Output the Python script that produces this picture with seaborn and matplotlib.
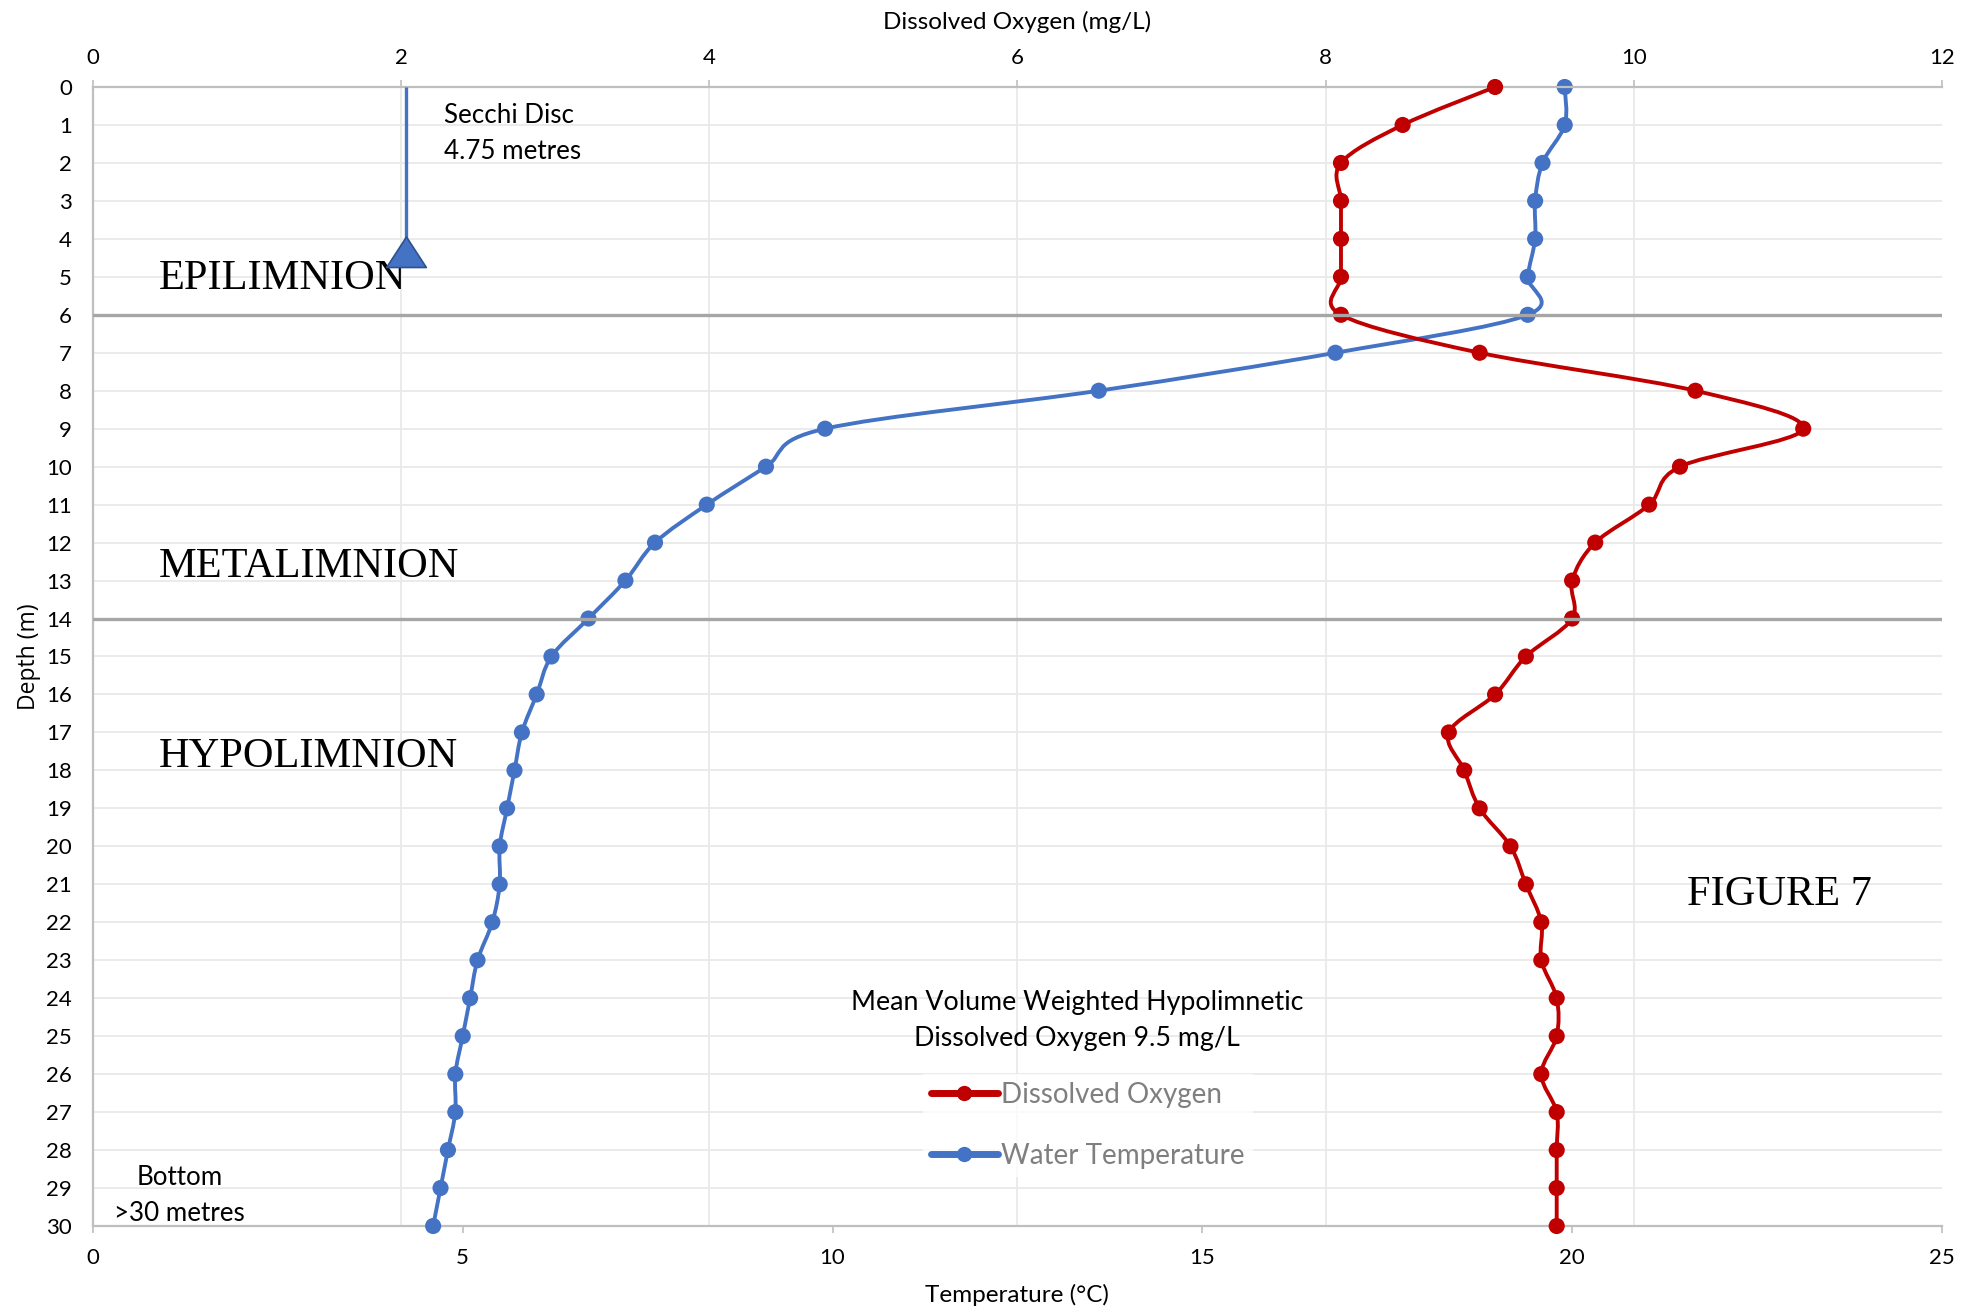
import numpy as np
import matplotlib
matplotlib.use("Agg")
import matplotlib.pyplot as plt
from matplotlib.path import Path
from matplotlib.patches import PathPatch
from matplotlib.lines import Line2D
from matplotlib.ticker import FixedLocator
import seaborn as sns

# ---- profile data -------------------------------------------------------
depth_m = list(range(0, 31))
water_temp_c = [19.9, 19.9, 19.6, 19.5, 19.5, 19.4, 19.4, 16.8, 13.6, 9.9,
                9.1, 8.3, 7.6, 7.2, 6.7, 6.2, 6.0, 5.8, 5.7, 5.6,
                5.5, 5.5, 5.4, 5.2, 5.1, 5.0, 4.9, 4.9, 4.8, 4.7, 4.6]
dissolved_oxygen = [9.1, 8.5, 8.1, 8.1, 8.1, 8.1, 8.1, 9.0, 10.4, 11.1,
                    10.3, 10.1, 9.75, 9.6, 9.6, 9.3, 9.1, 8.8, 8.9, 9.0,
                    9.2, 9.3, 9.4, 9.4, 9.5, 9.5, 9.4, 9.5, 9.5, 9.5, 9.5]
layer_boundaries_m = [6, 14]
secchi_depth_m = 4.75
secchi_marker_do = 2.03

temp_ticks = [0, 5, 10, 15, 20, 25]
do_ticks = [0, 2, 4, 6, 8, 10, 12]
depth_ticks = list(range(0, 31))

RED = "#C00000"
BLUE = "#4472C4"
AXIS_GREY = "#BFBFBF"
GRID_GREY = "#E9E9E9"
LAYER_GREY = "#A6A6A6"

sns.set_style("white")
plt.rcParams["font.family"] = ["Lato", "DejaVu Sans"]
plt.rcParams["text.color"] = "black"
plt.rcParams["axes.labelcolor"] = "black"
SERIF = ["Liberation Serif", "DejaVu Serif"]


def smooth_path(xs, ys):
    """Cubic Bezier path through the points (Catmull-Rom style tangents)."""
    pts = np.column_stack([xs, ys]).astype(float)
    n = len(pts)
    verts = [pts[0]]
    codes = [Path.MOVETO]
    for i in range(n - 1):
        p0 = pts[i - 1] if i > 0 else pts[i]
        p1, p2 = pts[i], pts[i + 1]
        p3 = pts[i + 2] if i + 2 < n else pts[i + 1]
        verts += [p1 + (p2 - p0) / 6.0, p2 - (p3 - p1) / 6.0, p2]
        codes += [Path.CURVE4] * 3
    return Path(verts, codes)


fig = plt.figure(figsize=(19.77, 13.12), dpi=100)
ax = fig.add_axes([0.0470, 0.06555, 0.93525, 0.86814])
ax2 = ax.twiny()

# limits
ax.set_xlim(temp_ticks[0], temp_ticks[-1])
ax.set_ylim(depth_ticks[-1], depth_ticks[0])
ax2.set_xlim(do_ticks[0], do_ticks[-1])

# grid: horizontal at each metre, vertical at the oxygen ticks
ax.set_yticks(depth_ticks)
ax.set_xticks(temp_ticks)
scale = temp_ticks[-1] / do_ticks[-1]
ax.xaxis.set_minor_locator(FixedLocator([d * scale for d in do_ticks[1:]]))
ax.grid(which="major", axis="y", color=GRID_GREY, lw=1.3)
ax.grid(which="minor", axis="x", color=GRID_GREY, lw=1.3)
ax.grid(which="major", axis="x", visible=False)
ax.set_axisbelow(True)
ax2.grid(False)
ax2.set_xticks(do_ticks)

# spines
for side in ["top", "right"]:
    ax.spines[side].set_visible(False)
for side in ["left", "bottom"]:
    ax.spines[side].set_color(AXIS_GREY)
    ax.spines[side].set_linewidth(1.6)
for side in ["left", "bottom", "right"]:
    ax2.spines[side].set_visible(False)
ax2.spines["top"].set_color(AXIS_GREY)
ax2.spines["top"].set_linewidth(1.6)

ax.tick_params(axis="y", which="major", length=5, width=1.2, color=AXIS_GREY,
               labelsize=16, pad=10, labelcolor="black")
ax.tick_params(axis="x", which="major", length=5, width=1.2, color=AXIS_GREY,
               labelsize=16, pad=11, labelcolor="black")
ax.tick_params(axis="x", which="minor", length=0)
ax2.tick_params(axis="x", length=5, width=1.2, color=AXIS_GREY,
                labelsize=16, pad=9, labelcolor="black")

ax.set_xlabel("Temperature (°C)", fontsize=17.5, labelpad=11)
ax2.set_xlabel("Dissolved Oxygen (mg/L)", fontsize=17.5, labelpad=13)
ax.set_ylabel("Depth (m)", fontsize=16.5, labelpad=4,
              family=["Open Sans", "DejaVu Sans"])

# smoothed profiles
ax.add_patch(PathPatch(smooth_path(water_temp_c, depth_m), facecolor="none",
                       edgecolor=BLUE, lw=2.8, capstyle="round",
                       joinstyle="round", zorder=2, clip_on=False))
ax2.add_patch(PathPatch(smooth_path(dissolved_oxygen, depth_m), facecolor="none",
                        edgecolor=RED, lw=2.8, capstyle="round",
                        joinstyle="round", zorder=2, clip_on=False))

# point markers
sns.scatterplot(x=water_temp_c, y=depth_m, ax=ax, color=BLUE, s=135,
                edgecolor="none", zorder=3, clip_on=False, legend=False)
sns.scatterplot(x=dissolved_oxygen, y=depth_m, ax=ax2, color=RED, s=135,
                edgecolor="none", zorder=3, clip_on=False, legend=False)

# layer boundaries
for b in layer_boundaries_m:
    ax2.axhline(b, color=LAYER_GREY, lw=2.4, zorder=4)

# Secchi disc depth
ax2.plot([secchi_marker_do, secchi_marker_do], [0, secchi_depth_m], color=BLUE,
         lw=2.4, zorder=5, solid_capstyle="butt")
tri = Path([(-0.65, 0.0), (0.65, 0.0), (0.0, 1.0), (-0.65, 0.0)],
           [Path.MOVETO, Path.LINETO, Path.LINETO, Path.CLOSEPOLY])
ax2.plot([secchi_marker_do], [secchi_depth_m], marker=tri, markersize=44,
         markerfacecolor=BLUE, markeredgecolor="#2F528F", markeredgewidth=1.2,
         linestyle="none", zorder=6)

# annotations
ax.text(4.75, 0.74, "Secchi Disc", fontsize=18.7, va="center", ha="left")
ax.text(4.75, 1.71, f"{secchi_depth_m:.2f} metres", fontsize=18.7, va="center", ha="left")
ax.text(0.89, 5.32, "EPILIMNION", family=SERIF, fontsize=30.5, va="baseline", zorder=7)
ax.text(0.89, 12.9, "METALIMNION", family=SERIF, fontsize=30.5, va="baseline")
ax.text(0.89, 17.9, "HYPOLIMNION", family=SERIF, fontsize=30.5, va="baseline")
ax.text(21.55, 21.54, "FIGURE 7", family=SERIF, fontsize=30.5, va="baseline")
ax.text(13.31, 24.12, "Mean Volume Weighted Hypolimnetic", fontsize=19.3,
        ha="center", va="center")
ax.text(13.31, 25.07, "Dissolved Oxygen 9.5 mg/L", fontsize=19.3,
        ha="center", va="center")
ax.text(1.17, 28.73, "Bottom", fontsize=18.7, ha="center", va="center")
ax.text(1.17, 29.66, ">30 metres", fontsize=18.7, ha="center", va="center")

# legend
handles = [
    Line2D([], [], color=RED, lw=5, marker="o", markersize=11,
           markeredgecolor="none", label="Dissolved Oxygen"),
    Line2D([], [], color=BLUE, lw=5, marker="o", markersize=11,
           markeredgecolor="none", label="Water Temperature"),
]
leg = ax2.legend(handles=handles, loc="center", bbox_to_anchor=(0.5503, 0.1421),
                 bbox_transform=fig.transFigure, frameon=True, fontsize=20,
                 handlelength=2.4, handletextpad=0.12, labelspacing=1.25,
                 borderpad=0.3, fancybox=False)
leg.get_frame().set_facecolor("white")
leg.get_frame().set_edgecolor("none")
for t in leg.get_texts():
    t.set_color("#7F7F7F")
leg.set_zorder(8)

fig.savefig("out.png", dpi=100)
